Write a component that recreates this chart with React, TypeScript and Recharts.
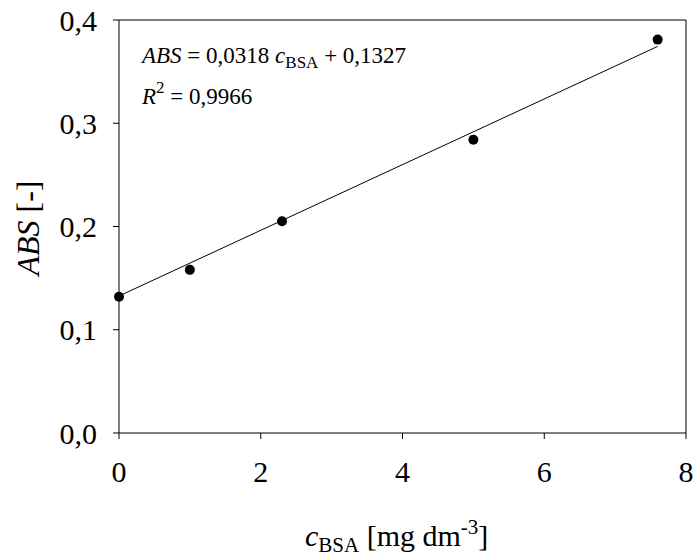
import { ScatterChart, Scatter, XAxis, YAxis, ReferenceLine } from 'recharts';

// měřené body kalibrace
const concentrations = [0, 1, 2.3, 5, 7.6];
const absorbances = [0.132, 0.158, 0.205, 0.284, 0.381];

// regresní přímka (konce)
const fitX = [0, 7.6];
const fitY = [0.1327, 0.3744];

const xTicks = [0, 2, 4, 6, 8];
const yTicks = [0, 0.1, 0.2, 0.3, 0.4];

const points = concentrations.map((x, i) => ({ x, y: absorbances[i] }));
const fitLine = fitX.map((x, i) => ({ x, y: fitY[i] }));

const FONT = "'Liberation Serif', 'Times New Roman', serif";
const comma = (v: number) => v.toFixed(1).replace('.', ',');

function XTitle() {
  return (
    <text x={305} y={546} textAnchor="start" fontFamily={FONT} fontSize={30} fill="#000">
      <tspan fontStyle="italic">c</tspan>
      <tspan fontSize={21} dy={6}>BSA</tspan>
      <tspan dy={-6}> [mg dm</tspan>
      <tspan fontSize={21} dy={-12}>-3</tspan>
      <tspan dy={12}>]</tspan>
    </text>
  );
}

function YTitle() {
  return (
    <text x={39} y={228} textAnchor="middle" fontFamily={FONT} fontSize={32} fill="#000" transform="rotate(-90 39 228)">
      <tspan fontStyle="italic">ABS</tspan>
      <tspan> [-]</tspan>
    </text>
  );
}

export default function App() {
  return (
    <div style={{ position: 'absolute', left: 0, top: 0, width: 696, height: 559, background: '#fff' }}>
      <ScatterChart width={696} height={559} margin={{ top: 20, right: 10, left: 0, bottom: 0 }}>
        <XAxis
          type="number"
          dataKey="x"
          domain={[0, 8]}
          ticks={xTicks}
          height={126}
          axisLine={{ stroke: '#000' }}
          tickLine={{ stroke: '#000' }}
          tickSize={6}
          tickMargin={22}
          tick={{ fontSize: 30, fontFamily: FONT, fill: '#000' }}
          label={{ content: () => <XTitle /> }}
        />
        <YAxis
          type="number"
          dataKey="y"
          domain={[0, 0.4]}
          ticks={yTicks}
          width={119}
          axisLine={{ stroke: '#000' }}
          tickLine={{ stroke: '#000' }}
          tickSize={6}
          tickMargin={16}
          tickFormatter={comma}
          tick={{ fontSize: 30, fontFamily: FONT, fill: '#000' }}
          label={{ content: () => <YTitle /> }}
        />
        <ReferenceLine y={0.4} stroke="#000" />
        <ReferenceLine x={8} stroke="#000" />
        <Scatter
          data={fitLine}
          line={{ stroke: '#000', strokeWidth: 1 }}
          shape={() => <g />}
          isAnimationActive={false}
        />
        <Scatter
          data={points}
          shape={(p: any) => <circle cx={p.cx} cy={p.cy} r={5} fill="#000" />}
          isAnimationActive={false}
        />
      </ScatterChart>
      <svg width={696} height={559} style={{ position: 'absolute', left: 0, top: 0, pointerEvents: 'none' }}>
        <text x={142} y={63} fontFamily={FONT} fontSize={23} fill="#000">
          <tspan fontStyle="italic">ABS</tspan>
          <tspan> = 0,0318 </tspan>
          <tspan fontStyle="italic">c</tspan>
          <tspan fontSize={17} dy={5}>BSA</tspan>
          <tspan dy={-5}> + 0,1327</tspan>
        </text>
        <text x={142} y={104} fontFamily={FONT} fontSize={23} fill="#000">
          <tspan fontStyle="italic">R</tspan>
          <tspan fontSize={17} dy={-11}>2</tspan>
          <tspan dy={11}> = 0,9966</tspan>
        </text>
      </svg>
    </div>
  );
}
